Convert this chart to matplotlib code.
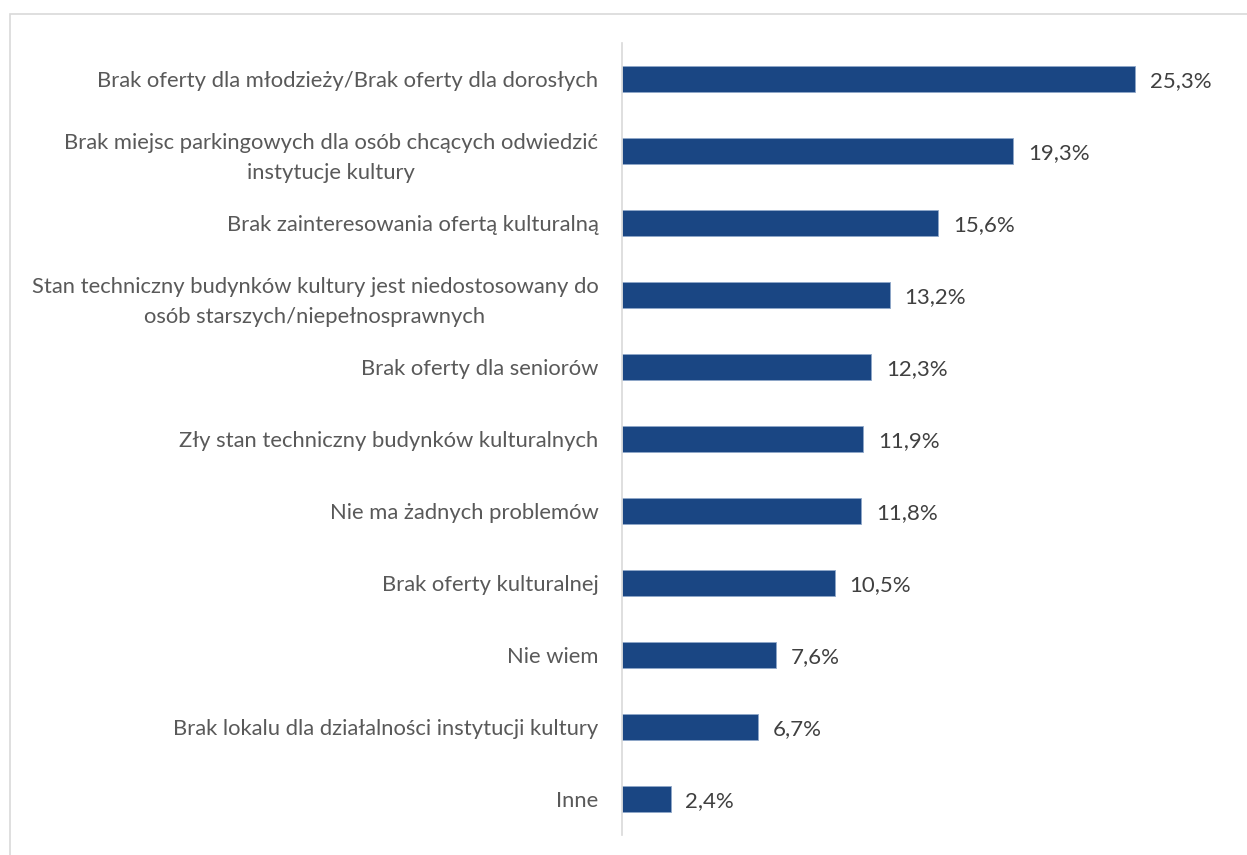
import matplotlib
matplotlib.use("Agg")
import matplotlib.pyplot as plt
from matplotlib.patches import Rectangle

plt.rcParams['font.family'] = ['Lato', 'DejaVu Sans']

categories = [
    "Brak oferty dla młodzieży/Brak oferty dla dorosłych",
    "Brak miejsc parkingowych dla osób chcących odwiedzić\ninstytucje kultury",
    "Brak zainteresowania ofertą kulturalną",
    "Stan techniczny budynków kultury jest niedostosowany do\nosób starszych/niepełnosprawnych",
    "Brak oferty dla seniorów",
    "Zły stan techniczny budynków kulturalnych",
    "Nie ma żadnych problemów",
    "Brak oferty kulturalnej",
    "Nie wiem",
    "Brak lokalu dla działalności instytucji kultury",
    "Inne",
]
values = [25.3, 19.3, 15.6, 13.2, 12.3, 11.9, 11.8, 10.5, 7.6, 6.7, 2.4]
value_labels = ["25,3%", "19,3%", "15,6%", "13,2%", "12,3%", "11,9%",
                "11,8%", "10,5%", "7,6%", "6,7%", "2,4%"]

W, H = 1247, 855
fig = plt.figure(figsize=(W / 100, H / 100), dpi=100)

# light outer frame
fig.patches.append(Rectangle((10 / W, -0.05), 1.1, 1 - 14 / H + 0.05,
                             transform=fig.transFigure, fill=False,
                             edgecolor="#d9d9d9", linewidth=1.2))

x0, x1 = 622, 1230
y_top, y_bot = 43, 835
ax = fig.add_axes([x0 / W, 1 - y_bot / H, (x1 - x0) / W, (y_bot - y_top) / H])

pos = list(range(len(categories)))
ax.barh(pos, values, height=0.36, color="#1a4683", edgecolor="#8fa7c9",
        linewidth=0.6)
xmax = 25.3 * (x1 - x0) / (1135 - x0)
ax.set_xlim(0, xmax)
ax.set_ylim(len(categories) - 0.5, -0.5)

for p, v, lab in zip(pos, values, value_labels):
    ax.annotate(lab, (v, p), xytext=(10.5, -1.5), textcoords="offset points",
                va="center", ha="left", fontsize=16, color="#404040")

ax.set_yticks(pos)
ax.set_yticklabels(categories, fontsize=15.8, color="#595959",
                   multialignment="center", linespacing=1.6)
ax.tick_params(axis="y", length=0, pad=17)
ax.set_xticks([])
for s in ["top", "right", "bottom"]:
    ax.spines[s].set_visible(False)
ax.spines["left"].set_color("#d9d9d9")
ax.spines["left"].set_linewidth(1.2)

fig.savefig("out.png", dpi=100)
